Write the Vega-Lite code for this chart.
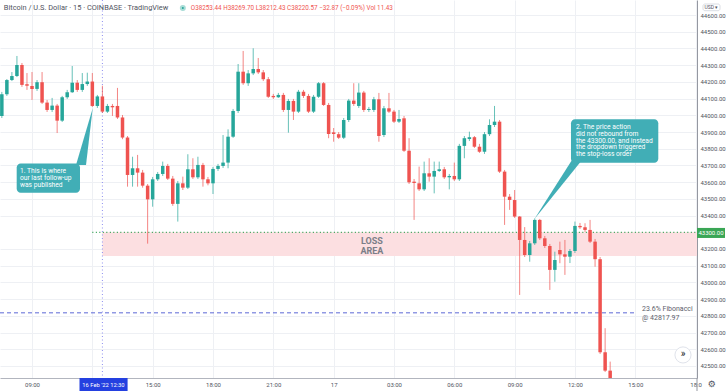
{
"$schema":"https://vega.github.io/schema/vega-lite/v6.json",
"width":697,"height":378,
"autosize":{"type":"none"},
"padding":{"left":0,"top":0,"right":31,"bottom":13},
"background":"white",
"config":{"view":{"stroke":null},"font":"Roboto","axis":{"labelFont":"Roboto"}},
"datasets":{
"candles":[
{"t":"2022-02-16T07:30","o":43996,"h":44140,"l":43984,"c":44126},
{"t":"2022-02-16T07:45","o":44126,"h":44217,"l":44116,"c":44211},
{"t":"2022-02-16T08:00","o":44211,"h":44259,"l":44205,"c":44235},
{"t":"2022-02-16T08:15","o":44235,"h":44355,"l":44229,"c":44301},
{"t":"2022-02-16T08:30","o":44301,"h":44313,"l":44170,"c":44182},
{"t":"2022-02-16T08:45","o":44186,"h":44253,"l":44152,"c":44177},
{"t":"2022-02-16T09:00","o":44176,"h":44259,"l":44092,"c":44158},
{"t":"2022-02-16T09:15","o":44158,"h":44211,"l":44146,"c":44198},
{"t":"2022-02-16T09:30","o":44198,"h":44259,"l":44068,"c":44076},
{"t":"2022-02-16T09:45","o":44076,"h":44092,"l":44020,"c":44032},
{"t":"2022-02-16T10:00","o":44032,"h":44104,"l":44020,"c":44058},
{"t":"2022-02-16T10:15","o":44058,"h":44068,"l":43894,"c":43968},
{"t":"2022-02-16T10:30","o":43968,"h":44116,"l":43960,"c":44108},
{"t":"2022-02-16T10:45","o":44108,"h":44152,"l":44098,"c":44138},
{"t":"2022-02-16T11:00","o":44138,"h":44295,"l":44134,"c":44195},
{"t":"2022-02-16T11:15","o":44195,"h":44211,"l":44140,"c":44152},
{"t":"2022-02-16T11:30","o":44152,"h":44253,"l":44140,"c":44187},
{"t":"2022-02-16T11:45","o":44187,"h":44255,"l":44176,"c":44202},
{"t":"2022-02-16T12:00","o":44202,"h":44253,"l":44050,"c":44056},
{"t":"2022-02-16T12:15","o":44056,"h":44122,"l":44044,"c":44113},
{"t":"2022-02-16T12:30","o":44113,"h":44177,"l":44014,"c":44022},
{"t":"2022-02-16T12:45","o":44022,"h":44068,"l":44014,"c":44056},
{"t":"2022-02-16T13:00","o":44056,"h":44068,"l":43996,"c":44048},
{"t":"2022-02-16T13:15","o":44056,"h":44164,"l":43978,"c":43987},
{"t":"2022-02-16T13:30","o":43987,"h":44002,"l":43857,"c":43867},
{"t":"2022-02-16T13:45","o":43867,"h":43876,"l":43573,"c":43643},
{"t":"2022-02-16T14:00","o":43643,"h":43752,"l":43573,"c":43683},
{"t":"2022-02-16T14:15","o":43683,"h":43763,"l":43573,"c":43657},
{"t":"2022-02-16T14:30","o":43657,"h":43673,"l":43567,"c":43579},
{"t":"2022-02-16T14:45","o":43579,"h":43589,"l":43232,"c":43497},
{"t":"2022-02-16T15:00","o":43497,"h":43631,"l":43453,"c":43617},
{"t":"2022-02-16T15:15","o":43617,"h":43661,"l":43607,"c":43649},
{"t":"2022-02-16T15:30","o":43649,"h":43723,"l":43637,"c":43697},
{"t":"2022-02-16T15:45","o":43697,"h":43709,"l":43613,"c":43621},
{"t":"2022-02-16T16:00","o":43621,"h":43637,"l":43458,"c":43470},
{"t":"2022-02-16T16:15","o":43470,"h":43607,"l":43364,"c":43593},
{"t":"2022-02-16T16:30","o":43593,"h":43633,"l":43553,"c":43567},
{"t":"2022-02-16T16:45","o":43567,"h":43767,"l":43559,"c":43677},
{"t":"2022-02-16T17:00","o":43677,"h":43743,"l":43619,"c":43629},
{"t":"2022-02-16T17:15","o":43629,"h":43752,"l":43619,"c":43703},
{"t":"2022-02-16T17:30","o":43703,"h":43715,"l":43573,"c":43617},
{"t":"2022-02-16T17:45","o":43617,"h":43631,"l":43581,"c":43593},
{"t":"2022-02-16T18:00","o":43593,"h":43691,"l":43529,"c":43679},
{"t":"2022-02-16T18:15","o":43679,"h":43709,"l":43667,"c":43697},
{"t":"2022-02-16T18:30","o":43697,"h":43882,"l":43685,"c":43717},
{"t":"2022-02-16T18:45","o":43717,"h":43916,"l":43683,"c":43872},
{"t":"2022-02-16T19:00","o":43872,"h":44038,"l":43865,"c":44026},
{"t":"2022-02-16T19:15","o":44026,"h":44307,"l":44014,"c":44261},
{"t":"2022-02-16T19:30","o":44261,"h":44385,"l":44182,"c":44192},
{"t":"2022-02-16T19:45","o":44192,"h":44271,"l":44176,"c":44251},
{"t":"2022-02-16T20:00","o":44251,"h":44401,"l":44241,"c":44277},
{"t":"2022-02-16T20:15","o":44277,"h":44343,"l":44247,"c":44257},
{"t":"2022-02-16T20:30","o":44257,"h":44271,"l":44205,"c":44216},
{"t":"2022-02-16T20:45","o":44216,"h":44229,"l":44104,"c":44111},
{"t":"2022-02-16T21:00","o":44116,"h":44128,"l":44098,"c":44108},
{"t":"2022-02-16T21:15","o":44108,"h":44134,"l":44104,"c":44122},
{"t":"2022-02-16T21:30","o":44122,"h":44134,"l":44020,"c":44032},
{"t":"2022-02-16T21:45","o":44032,"h":44098,"l":43896,"c":44086},
{"t":"2022-02-16T22:00","o":44086,"h":44098,"l":43972,"c":44022},
{"t":"2022-02-16T22:15","o":44022,"h":44152,"l":44014,"c":44141},
{"t":"2022-02-16T22:30","o":44141,"h":44152,"l":44104,"c":44116},
{"t":"2022-02-16T22:45","o":44116,"h":44128,"l":44014,"c":44022},
{"t":"2022-02-16T23:00","o":44022,"h":44122,"l":44014,"c":44111},
{"t":"2022-02-16T23:15","o":44111,"h":44199,"l":44104,"c":44192},
{"t":"2022-02-16T23:30","o":44192,"h":44199,"l":44056,"c":44062},
{"t":"2022-02-16T23:45","o":44062,"h":44074,"l":43863,"c":43888},
{"t":"2022-02-17T00:00","o":43898,"h":43924,"l":43842,"c":43888},
{"t":"2022-02-17T00:15","o":43887,"h":43900,"l":43858,"c":43866},
{"t":"2022-02-17T00:30","o":43866,"h":43984,"l":43858,"c":43972},
{"t":"2022-02-17T00:45","o":43972,"h":44098,"l":43960,"c":44088},
{"t":"2022-02-17T01:00","o":44088,"h":44192,"l":44056,"c":44068},
{"t":"2022-02-17T01:15","o":44056,"h":44192,"l":44044,"c":44136},
{"t":"2022-02-17T01:30","o":44136,"h":44146,"l":44020,"c":44032},
{"t":"2022-02-17T01:45","o":44032,"h":44050,"l":44020,"c":44038},
{"t":"2022-02-17T02:00","o":44032,"h":44110,"l":44020,"c":44096},
{"t":"2022-02-17T02:15","o":44096,"h":44134,"l":43842,"c":43876},
{"t":"2022-02-17T02:30","o":43882,"h":44056,"l":43870,"c":44042},
{"t":"2022-02-17T02:45","o":44042,"h":44134,"l":44014,"c":44022},
{"t":"2022-02-17T03:00","o":44022,"h":44032,"l":43954,"c":43962},
{"t":"2022-02-17T03:15","o":43962,"h":44032,"l":43954,"c":43978},
{"t":"2022-02-17T03:30","o":43982,"h":43996,"l":43781,"c":43788},
{"t":"2022-02-17T03:45","o":43788,"h":43863,"l":43589,"c":43599},
{"t":"2022-02-17T04:00","o":43603,"h":43619,"l":43374,"c":43595},
{"t":"2022-02-17T04:15","o":43593,"h":43693,"l":43547,"c":43557},
{"t":"2022-02-17T04:30","o":43557,"h":43723,"l":43547,"c":43653},
{"t":"2022-02-17T04:45","o":43653,"h":43743,"l":43603,"c":43633},
{"t":"2022-02-17T05:00","o":43633,"h":43723,"l":43533,"c":43667},
{"t":"2022-02-17T05:15","o":43667,"h":43723,"l":43661,"c":43677},
{"t":"2022-02-17T05:30","o":43677,"h":43691,"l":43619,"c":43629},
{"t":"2022-02-17T05:45","o":43629,"h":43649,"l":43557,"c":43637},
{"t":"2022-02-17T06:00","o":43637,"h":43717,"l":43607,"c":43617},
{"t":"2022-02-17T06:15","o":43617,"h":43829,"l":43607,"c":43817},
{"t":"2022-02-17T06:30","o":43817,"h":43876,"l":43743,"c":43863},
{"t":"2022-02-17T06:45","o":43858,"h":43902,"l":43846,"c":43869},
{"t":"2022-02-17T07:00","o":43869,"h":43876,"l":43805,"c":43812},
{"t":"2022-02-17T07:15","o":43812,"h":43829,"l":43775,"c":43782},
{"t":"2022-02-17T07:30","o":43782,"h":43900,"l":43769,"c":43887},
{"t":"2022-02-17T07:45","o":43887,"h":43976,"l":43876,"c":43942},
{"t":"2022-02-17T08:00","o":43942,"h":44056,"l":43930,"c":43962},
{"t":"2022-02-17T08:15","o":43962,"h":43972,"l":43655,"c":43663},
{"t":"2022-02-17T08:30","o":43663,"h":43673,"l":43344,"c":43513},
{"t":"2022-02-17T08:45","o":43513,"h":43529,"l":43434,"c":43493},
{"t":"2022-02-17T09:00","o":43493,"h":43553,"l":43386,"c":43394},
{"t":"2022-02-17T09:15","o":43394,"h":43397,"l":42925,"c":43254},
{"t":"2022-02-17T09:30","o":43254,"h":43331,"l":43152,"c":43164},
{"t":"2022-02-17T09:45","o":43164,"h":43248,"l":43124,"c":43234},
{"t":"2022-02-17T10:00","o":43234,"h":43383,"l":43224,"c":43374},
{"t":"2022-02-17T10:15","o":43374,"h":43380,"l":43254,"c":43264},
{"t":"2022-02-17T10:30","o":43264,"h":43278,"l":43206,"c":43218},
{"t":"2022-02-17T10:45","o":43218,"h":43230,"l":42955,"c":43075},
{"t":"2022-02-17T11:00","o":43075,"h":43184,"l":43004,"c":43134},
{"t":"2022-02-17T11:15","o":43194,"h":43244,"l":43115,"c":43168},
{"t":"2022-02-17T11:30","o":43168,"h":43254,"l":43045,"c":43154},
{"t":"2022-02-17T11:45","o":43154,"h":43200,"l":43116,"c":43188},
{"t":"2022-02-17T12:00","o":43188,"h":43364,"l":43176,"c":43338},
{"t":"2022-02-17T12:15","o":43338,"h":43356,"l":43320,"c":43330},
{"t":"2022-02-17T12:30","o":43330,"h":43354,"l":43302,"c":43314},
{"t":"2022-02-17T12:45","o":43314,"h":43374,"l":43236,"c":43244},
{"t":"2022-02-17T13:00","o":43244,"h":43260,"l":43094,"c":43139},
{"t":"2022-02-17T13:15","o":43139,"h":43152,"l":42572,"c":42582},
{"t":"2022-02-17T13:30","o":42582,"h":42726,"l":42464,"c":42472},
{"t":"2022-02-17T13:45","o":42472,"h":42526,"l":42392,"c":42404}
]
},
"encoding":{
"x":{"field":"t","type":"temporal","title":null,
 "scale":{"domain":[{"year":2022,"month":2,"date":16,"hours":7,"minutes":24,"seconds":30},{"year":2022,"month":2,"date":17,"hours":18,"minutes":4,"seconds":6}],"nice":false,"padding":0},
 "axis":{"values":[
  {"year":2022,"month":2,"date":16,"hours":9},{"year":2022,"month":2,"date":16,"hours":12},{"year":2022,"month":2,"date":16,"hours":15},{"year":2022,"month":2,"date":16,"hours":18},{"year":2022,"month":2,"date":16,"hours":21},
  {"year":2022,"month":2,"date":17,"hours":0},{"year":2022,"month":2,"date":17,"hours":3},{"year":2022,"month":2,"date":17,"hours":6},{"year":2022,"month":2,"date":17,"hours":9},{"year":2022,"month":2,"date":17,"hours":12},{"year":2022,"month":2,"date":17,"hours":15},{"year":2022,"month":2,"date":17,"hours":18}],
  "labelExpr":"hours(datum.value)==0 ? '17' : (date(datum.value)==16 && hours(datum.value)==12) ? '' : (date(datum.value)==17 && hours(datum.value)==18) ? '18:0' : timeFormat(datum.value,'%H:%M')",
  "grid":true,"gridColor":"#eef0f4","gridWidth":1,"ticks":false,"domainColor":"#b2b5be","labelFontSize":6,"labelColor":"#50535e","labelPadding":3,"labelOverlap":false,"labelFlush":false}},
"y":{"field":"p","type":"quantitative","title":null,
 "scale":{"domain":[42428,44690],"nice":false,"zero":false},
 "axis":{"orient":"right","values":[42500,42600,42700,42800,42900,43000,43100,43200,43400,43500,43600,43700,43800,43900,44000,44100,44200,44300,44400,44500,44600],
  "format":".2f","grid":true,"gridColor":"#eef0f4","ticks":false,"domainColor":"#9598a1","labelFontSize":6,"labelColor":"#50535e","labelPadding":3}}
},
"layer":[
{"data":{"values":[{"t":"2022-02-16T12:30","t2":"2022-02-17T18:04:06","p":43300,"p2":43158}]},
 "mark":{"type":"rect","color":"#fcdfe1"},
 "encoding":{"x2":{"field":"t2"},"y2":{"field":"p2"}}},
{"data":{"values":[{"t":"2022-02-16T07:24:30","t2":"2022-02-17T15:00","p":42817.97}]},
 "mark":{"type":"rule","color":"#5c68d6","strokeWidth":1,"strokeDash":[4,3]},
 "encoding":{"x2":{"field":"t2"}}},
{"data":{"values":[{"t":"2022-02-16T12:00","t2":"2022-02-17T18:04:06","p":43300}]},
 "mark":{"type":"rule","color":"#2e9e4f","strokeWidth":1.2,"strokeDash":[1,2.5]},
 "encoding":{"x2":{"field":"t2"}}},
{"data":{"values":[{"t":"2022-02-16T12:30","p":44690,"p2":42428}]},
 "mark":{"type":"rule","color":"#8d8ff0","strokeWidth":1,"strokeDash":[1,2.5]},
 "encoding":{"y2":{"field":"p2"}}},
{"data":{"name":"candles"},
 "mark":{"type":"rule","strokeWidth":1,"opacity":0.7,"clip":true},
 "encoding":{
  "y":{"field":"l","type":"quantitative","title":null,"scale":{"domain":[42428,44690],"nice":false,"zero":false}},
  "y2":{"field":"h"},
  "color":{"condition":{"test":"datum.c < datum.o","value":"#ef5350"},"value":"#26a69a"}}},
{"data":{"name":"candles"},
 "mark":{"type":"bar","width":3.5,"clip":true},
 "encoding":{
  "y":{"field":"o","type":"quantitative","title":null,"scale":{"domain":[42428,44690],"nice":false,"zero":false}},
  "y2":{"field":"c"},
  "color":{"condition":{"test":"datum.c < datum.o","value":"#ef5350"},"value":"#26a69a"}}},
{"data":{"values":[{"t":"2022-02-17T01:54","p":43250,"txt":"LOSS"},{"t":"2022-02-17T01:54","p":43190,"txt":"AREA"}]},
 "mark":{"type":"text","fontSize":9,"fontWeight":"bold","color":"#7b7e88","align":"center","baseline":"middle"},
 "encoding":{"text":{"field":"txt"}}},
{"data":{"values":[{"t":"2022-02-17T15:20","p":42840,"txt":"23.6% Fibonacci"},{"t":"2022-02-17T15:20","p":42786,"txt":"@ 42817.97"}]},
 "mark":{"type":"text","fontSize":7,"color":"#5d606b","align":"left","baseline":"middle"},
 "encoding":{"text":{"field":"txt"}}},
{"data":{"values":[{"t":"2022-02-16T08:14:18","t2":"2022-02-16T11:23:12","p":43712,"p2":43536},{"t":"2022-02-17T11:48:06","t2":"2022-02-17T16:08:36","p":43976,"p2":43716}]},
 "mark":{"type":"rect","color":"#41aeb6","cornerRadius":4},
 "encoding":{"x2":{"field":"t2"},"y2":{"field":"p2"}}},
{"data":{"values":[
 {"id":1,"t":"2022-02-16T11:11:18","p":43703,"p2":43703},{"id":1,"t":"2022-02-16T11:41:06","p":43906,"p2":43703},{"id":1,"t":"2022-02-16T12:01:06","p":44042,"p2":44042},
 {"id":2,"t":"2022-02-17T09:58:36","p":43378,"p2":43378},{"id":2,"t":"2022-02-17T11:51:06","p":43733,"p2":43658},{"id":2,"t":"2022-02-17T12:21:00","p":43733,"p2":43733}]},
 "mark":{"type":"area","color":"#41aeb6","orient":"vertical","opacity":1},
 "encoding":{"y2":{"field":"p2"},"detail":{"field":"id"}}},
{"data":{"values":[
 {"t":"2022-02-16T08:24","p":43667,"txt":"1. This is where"},{"t":"2022-02-16T08:24","p":43625,"txt":"our last follow-up"},{"t":"2022-02-16T08:24","p":43583,"txt":"was published"},
 {"t":"2022-02-17T12:03","p":43932,"txt":"2. The price action"},{"t":"2022-02-17T12:03","p":43890,"txt":"did not rebound from"},{"t":"2022-02-17T12:03","p":43849,"txt":"the 43300.00, and instead"},{"t":"2022-02-17T12:03","p":43809,"txt":"the dropdown triggered"},{"t":"2022-02-17T12:03","p":43770,"txt":"the stop-loss order"}]},
 "mark":{"type":"text","fontSize":6.7,"color":"white","align":"left","baseline":"middle"},
 "encoding":{"text":{"field":"txt"}}},
{"data":{"values":[{"t":"2022-02-16T07:36","p":44642,"txt":"Bitcoin / U.S. Dollar · 15 · COINBASE · TradingView"}]},
 "mark":{"type":"text","fontSize":7.4,"color":"#50535e","align":"left","baseline":"middle"},
 "encoding":{"text":{"field":"txt"}}},
{"data":{"values":[{"t":"2022-02-16T16:54","p":44642,"txt":"O38253.44 H38269.70 L38212.43 C38220.57 −32.87 (−0.09%) Vol 11.43"}]},
 "mark":{"type":"text","fontSize":6.3,"color":"#ef5350","align":"left","baseline":"middle"},
 "encoding":{"text":{"field":"txt"}}},
{"data":{"values":[{"t":"2022-02-16T16:30","p":44642}]},
 "mark":{"type":"point","filled":true,"color":"#26a69a","size":16,"stroke":"#a8dcd6","strokeWidth":2,"opacity":1},
 "encoding":{}},
{"data":{"values":[{"t":"2022-02-17T18:04:06","t2":"2022-02-17T19:27:36","p":43326,"p2":43266}]},
 "mark":{"type":"rect","color":"#3aa655"},
 "encoding":{"x2":{"field":"t2"},"y2":{"field":"p2"}}},
{"data":{"values":[{"t":"2022-02-17T18:45:48","p":43296,"txt":"43300.00"}]},
 "mark":{"type":"text","fontSize":6,"color":"white","align":"center","baseline":"middle"},
 "encoding":{"text":{"field":"txt"}}},
{"data":{"values":[{"t":"2022-02-17T18:22","t2":"2022-02-17T19:12:42","p":44666,"p2":44626}]},
 "mark":{"type":"rect","fill":"white","stroke":"#d1d4dc","strokeWidth":0.8,"cornerRadius":2},
 "encoding":{"x2":{"field":"t2"},"y2":{"field":"p2"}}},
{"data":{"values":[{"t":"2022-02-17T18:47:18","p":44646,"txt":"USD ▾"}]},
 "mark":{"type":"text","fontSize":5,"color":"#50535e","align":"center","baseline":"middle"},
 "encoding":{"text":{"field":"txt"}}},
{"data":{"values":[{"t":"2022-02-16T11:21:42","t2":"2022-02-16T13:45:12","p":42428,"p2":42350}]},
 "mark":{"type":"rect","color":"#2440e0"},
 "encoding":{"x2":{"field":"t2"},"y2":{"field":"p2"}}},
{"data":{"values":[{"t":"2022-02-16T12:33:18","p":42389,"txt":"16 Feb '22   12:30"}]},
 "mark":{"type":"text","fontSize":5.8,"color":"white","align":"center","baseline":"middle"},
 "encoding":{"text":{"field":"txt"}}},
{"data":{"values":[{"t":"2022-02-17T18:04:06","p":42428,"p2":42350}]},
 "mark":{"type":"rule","color":"#9598a1","strokeWidth":1},
 "encoding":{"y2":{"field":"p2"}}},
{"data":{"values":[{"t":"2022-02-17T18:48:30","p":42392,"txt":"⚙"}]},
 "mark":{"type":"text","fontSize":9,"font":"DejaVu Sans","color":"#50535e","align":"center","baseline":"middle"},
 "encoding":{"text":{"field":"txt"}}},
{"data":{"values":[{"t":"2022-02-17T17:22:18","p":42566}]},
 "mark":{"type":"point","filled":true,"fill":"white","stroke":"#e0e3eb","strokeWidth":1,"size":260,"opacity":1},
 "encoding":{}},
{"data":{"values":[{"t":"2022-02-17T17:22:18","p":42570,"txt":"»"}]},
 "mark":{"type":"text","fontSize":10,"color":"#131722","align":"center","baseline":"middle"},
 "encoding":{"text":{"field":"txt"}}}
]
}
